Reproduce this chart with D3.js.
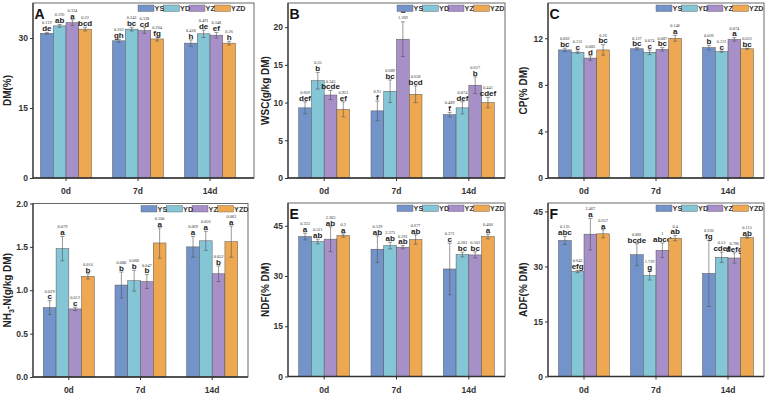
<!DOCTYPE html>
<html><head><meta charset="utf-8">
<script src="https://cdn.jsdelivr.net/npm/d3@7"></script>
<style>body{margin:0;background:#fff}svg{display:block}</style>
</head><body>
<svg id="chart" width="767" height="396"></svg>
<script>
const categories = ["0d", "7d", "14d"];
const seriesNames = ["YS", "YD", "YZ", "YZD"];
const colors = ["#7394cb", "#84c6d6", "#a78fc8", "#efa852"];

// A: DM (%)  rows = categories, columns = series
const dmMean = [[31.0, 32.6, 33.3, 31.9], [29.4, 31.9, 31.6, 29.8], [28.9, 30.9, 30.6, 28.9]];
const dmErr = [[0.2, 0.3, 0.6, 0.4], [0.3, 0.4, 0.6, 0.45], [0.7, 0.8, 0.6, 0.4]];
const dmSE = [["0.119", "0.193", "0.324", "0.22"], ["0.263", "0.243", "0.328", "0.264"], ["0.418", "0.491", "0.348", "0.26"]];
const dmLetters = [["de", "ab", "a", "bcd"], ["gh", "bc", "cd", "fg"], ["h", "de", "ef", "h"]];
const dmTicks = [0, 15, 30];

// B: WSC (g/kg DM)
const wscMean = [[9.3, 12.9, 11.0, 9.1], [8.9, 11.5, 18.4, 11.1], [8.4, 9.3, 12.3, 10.0]];
const wscErr = [[0.8, 1.1, 0.6, 1.0], [1.3, 1.5, 2.3, 1.1], [0.3, 0.8, 1.1, 0.7]];
const wscSE = [["0.669", "0.35", "0.343", "0.923"], ["0.91", "0.689", "1.369", "0.658"], ["0.489", "0.074", "0.627", "0.441"]];
const wscLetters = [["def", "b", "bcde", "ef"], ["f", "bc", "a", "bcd"], ["f", "def", "b", "cdef"]];
const wscTicks = [0, 5, 10, 15, 20];

// C: CP (% DM)
const cpMean = [[11.0, 10.8, 10.3, 11.0], [11.1, 10.8, 11.05, 12.0], [11.2, 10.85, 11.9, 11.1]];
const cpErr = [[0.15, 0.1, 0.2, 0.45], [0.1, 0.2, 0.15, 0.25], [0.2, 0.05, 0.15, 0.05]];
const cpSE = [["0.062", "0.131", "0.083", "0.26"], ["0.127", "0.074", "0.087", "0.146"], ["0.026", "0.121", "0.074", "0.012"]];
const cpLetters = [["bc", "c", "d", "bc"], ["bc", "c", "bc", "a"], ["b", "c", "a", "bc"]];
const cpTicks = [0, 4, 8, 12];

// D: NH3-N (g/kg DM)
const nhMean = [[0.80, 1.48, 0.785, 1.16], [1.06, 1.11, 1.10, 1.545], [1.50, 1.57, 1.19, 1.56]];
const nhErr = [[0.08, 0.14, 0.02, 0.03], [0.15, 0.12, 0.08, 0.175], [0.12, 0.11, 0.09, 0.18]];
const nhSE = [["0.029", "0.079", "0.012", "0.016"], ["0.080", "0.068", "0.047", "0.100"], ["0.069", "0.056", "0.052", "0.083"]];
const nhLetters = [["c", "a", "c", "b"], ["b", "b", "b", "a"], ["a", "a", "b", "a"]];
const nhTicks = [0, 0.5, 1.0, 1.5, 2.0];

// E: NDF (% DM)
const ndfMean = [[41.8, 40.3, 41.0, 42.1], [38.0, 39.1, 38.6, 40.9], [32.1, 36.4, 36.3, 41.8]];
const ndfErr = [[1.0, 0.7, 3.7, 0.5], [4.0, 1.0, 0.5, 1.4], [7.7, 0.7, 0.9, 0.7]];
const ndfSE = [["0.333", "0.521", "2.303", "0.2"], ["0.529", "2.373", "0.291", "0.677"], ["0.371", "4.281", "0.503", "0.406"]];
const ndfLetters = [["a", "ab", "ab", "a"], ["ab", "ab", "ab", "ab"], ["c", "bc", "bc", "a"]];
const ndfTicks = [0, 15, 30, 45];

// F: ADF (% DM)
const adfMean = [[37.1, 28.6, 38.8, 38.9], [33.2, 27.5, 34.4, 37.7], [28.1, 32.5, 32.3, 37.9]];
const adfErr = [[1.1, 0.3, 4.3, 1.1], [3.0, 1.2, 2.0, 0.7], [9.0, 1.4, 1.4, 0.2]];
const adfSE = [["0.135", "0.643", "2.467", "0.657"], ["0.881", "1.729", "1", "0.4"], ["0.636", "0.53", "0.786", "0.115"]];
const adfLetters = [["abc", "efg", "a", "a"], ["bcde", "g", "abcd", "ab"], ["fg", "cdef", "defg", "ab"]];
const adfTicks = [0, 15, 30, 45];

const panels = [
  {letter: "A", title: "DM(%)", mean: dmMean, err: dmErr, se: dmSE, lett: dmLetters, ticks: dmTicks, max: 37.5, fmt: d3.format("d"),
   left: 33, right: 254, top: 3, bottom: 178, band: [30, 246], legendX: 138, titleX: 11},
  {letter: "B", title: "WSC(g/kg DM)", mean: wscMean, err: wscErr, se: wscSE, lett: wscLetters, ticks: wscTicks, max: 23.2, fmt: d3.format("d"),
   left: 288, right: 505, top: 3, bottom: 178, band: [288, 505], legendX: 397, titleX: 269, numBelow: [[2, 1]]},
  {letter: "C", title: "CP(% DM)", mean: cpMean, err: cpErr, se: cpSE, lett: cpLetters, ticks: cpTicks, max: 15.03, fmt: d3.format("d"),
   left: 548, right: 764, top: 3, bottom: 178, band: [548, 764], legendX: 656, titleX: 527},
  {letter: "", title: "NH3-N(g/kg DM)", mean: nhMean, err: nhErr, se: nhSE, lett: nhLetters, ticks: nhTicks, max: 2.0, fmt: d3.format(".1f"),
   left: 33, right: 248, top: 203.5, bottom: 377, band: [33, 248], legendX: 141, titleX: 11},
  {letter: "E", title: "NDF(% DM)", mean: ndfMean, err: ndfErr, se: ndfSE, lett: ndfLetters, ticks: ndfTicks, max: 51.8, fmt: d3.format("d"),
   left: 288, right: 505, top: 203, bottom: 376.5, band: [288, 505], legendX: 397, titleX: 269},
  {letter: "F", title: "ADF(% DM)", mean: adfMean, err: adfErr, se: adfSE, lett: adfLetters, ticks: adfTicks, max: 47.3, fmt: d3.format("d"),
   left: 548, right: 764, top: 203, bottom: 376.5, band: [548, 764], legendX: 656, titleX: 527}
];

const svg = d3.select("#chart");
const sans = "'Liberation Sans', Arial, sans-serif";
const serif = "'Liberation Serif', 'Times New Roman', serif";

function drawPanel(p) {
  const g = svg.append("g");
  const x = d3.scaleBand().domain(categories).range(p.band);
  const groupW = 51;
  const xi = d3.scaleBand().domain(seriesNames).range([-groupW / 2, groupW / 2]);
  const y = d3.scaleLinear().domain([0, p.max]).range([p.bottom, p.top]);

  // bars
  categories.forEach((c, ci) => {
    const cx = x(c) + x.bandwidth() / 2;
    seriesNames.forEach((s, si) => {
      const v = p.mean[ci][si], e = p.err[ci][si];
      const bx = cx + xi(s);
      g.append("rect").attr("x", bx).attr("y", y(v)).attr("width", xi.bandwidth()).attr("height", y(0) - y(v))
        .attr("fill", colors[si]).attr("stroke", "#555").attr("stroke-width", 0.5);
      const mx = bx + xi.bandwidth() / 2;
      const yt = y(v + e), yb = y(v - e);
      g.append("line").attr("x1", mx).attr("x2", mx).attr("y1", yt).attr("y2", yb).attr("stroke", "#555").attr("stroke-width", 0.6);
      [yt, yb].forEach(yy => g.append("line").attr("x1", mx - 2).attr("x2", mx + 2).attr("y1", yy).attr("y2", yy).attr("stroke", "#555").attr("stroke-width", 0.6));
      const swap = (p.numBelow || []).some(d => d[0] === si && d[1] === ci);
      let letY, numY;
      if (swap) { numY = yt - 3; letY = numY - 6; }
      else { letY = yt - 1.2; numY = letY - 6.8; }
      g.append("text").attr("x", mx).attr("y", letY).attr("text-anchor", "middle")
        .attr("font-family", sans).attr("font-weight", "bold").attr("font-size", 8).attr("fill", "#222").text(p.lett[ci][si]);
      g.append("text").attr("x", mx).attr("y", numY).attr("text-anchor", "middle")
        .attr("font-family", serif).attr("font-size", 4.3).attr("fill", "#333").text(p.se[ci][si]);
    });
  });

  // frame
  g.append("rect").attr("x", p.left).attr("y", p.top).attr("width", p.right - p.left).attr("height", p.bottom - p.top)
    .attr("fill", "none").attr("stroke", "#444").attr("stroke-width", 0.8);
  g.append("line").attr("x1", p.left).attr("x2", p.right).attr("y1", p.bottom).attr("y2", p.bottom).attr("stroke", "#333").attr("stroke-width", 1.4);
  g.append("line").attr("x1", p.left).attr("x2", p.left).attr("y1", p.top).attr("y2", p.bottom).attr("stroke", "#333").attr("stroke-width", 1.2);

  // axes
  const ya = g.append("g").attr("transform", `translate(${p.left},0)`)
    .call(d3.axisLeft(y).tickValues(p.ticks).tickSize(3).tickPadding(2).tickFormat(p.fmt));
  ya.select(".domain").remove();
  ya.selectAll("text").attr("font-family", sans).attr("font-weight", "bold").attr("font-size", 8.5).attr("fill", "#333");
  ya.selectAll("line").attr("stroke", "#333");
  const xa = g.append("g").attr("transform", `translate(0,${p.bottom})`)
    .call(d3.axisBottom(x).tickSize(3).tickPadding(7));
  xa.select(".domain").remove();
  xa.selectAll("text").attr("font-family", sans).attr("font-weight", "bold").attr("font-size", 8.5).attr("fill", "#333");
  xa.selectAll("line").attr("stroke", "#333");

  // y title
  const cy = (p.top + p.bottom) / 2;
  const t = g.append("text").attr("transform", `translate(${p.titleX},${cy}) rotate(-90)`).attr("text-anchor", "middle")
    .attr("font-family", sans).attr("font-weight", "bold").attr("font-size", 10).attr("fill", "#222");
  if (p.title.startsWith("NH3")) {
    t.append("tspan").text("NH");
    t.append("tspan").attr("font-size", 7).attr("dy", 2.5).text("3");
    t.append("tspan").attr("dy", -2.5).text("-N(g/kg DM)");
  } else t.text(p.title);

  // panel letter
  if (p.letter) g.append("text").attr("x", p.left + 1.5).attr("y", p.top + 16).attr("font-family", sans).attr("font-weight", "bold")
    .attr("font-size", 14).attr("fill", "#111").text(p.letter);

  // legend: boxes first, then labels on top
  seriesNames.forEach((s, si) => {
    const lx = p.legendX + si * 25.5;
    g.append("rect").attr("x", lx).attr("y", p.top + 2).attr("width", 16).attr("height", 6.5)
      .attr("fill", colors[si]).attr("stroke", "#555").attr("stroke-width", 0.4);
  });
  seriesNames.forEach((s, si) => {
    const lx = p.legendX + si * 25.5;
    g.append("text").attr("x", lx + 16.6).attr("y", p.top + 8.2).attr("font-family", sans).attr("font-weight", "bold")
      .attr("font-size", 7.2).attr("fill", "#333").text(s);
  });
}

panels.forEach(drawPanel);
</script>
</body></html>
